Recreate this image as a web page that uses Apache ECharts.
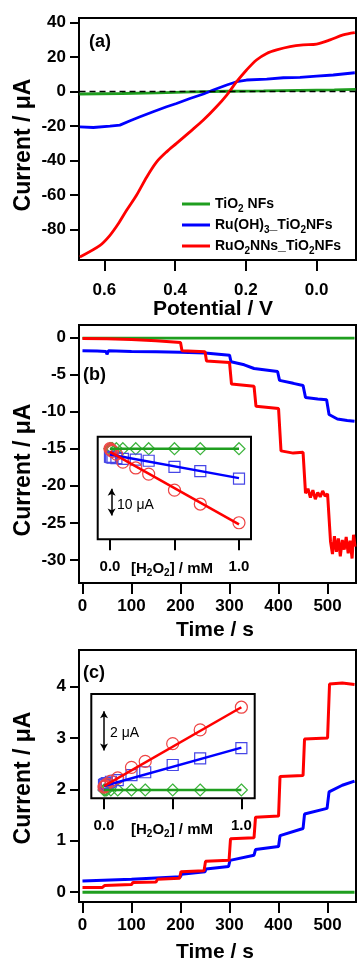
<!DOCTYPE html>
<html><head><meta charset="utf-8">
<script src="https://cdn.jsdelivr.net/npm/echarts@6/dist/echarts.min.js"></script>
<style>html,body{margin:0;padding:0;background:#fff}#c{width:358px;height:962px}</style>
</head><body><div id="c"></div>
<script>
// ---------- Panel (a): current vs potential ----------
const aGreenV = [0.67, 0.55, 0.45, 0.35, 0.25, 0.15, 0.05, -0.05, -0.11];
const aGreenI = [-1.5, -1.2, -0.8, -0.3, 0.1, 0.3, 0.6, 0.9, 1.2];
const aBlueV = [0.669, 0.631, 0.584, 0.556, 0.527, 0.499, 0.462, 0.424, 0.396, 0.358, 0.320, 0.292, 0.254, 0.226, 0.198, 0.141, 0.094, 0.047, 0.0, -0.047, -0.108];
const aBlueI = [-20.5, -20.9, -20.1, -19.5, -17.0, -14.7, -11.8, -8.9, -7.0, -4.1, -1.5, 0.8, 3.7, 5.6, 6.6, 7.1, 7.9, 8.1, 8.9, 9.5, 10.8];
const aRedV = [0.669, 0.612, 0.584, 0.560, 0.537, 0.509, 0.480, 0.452, 0.424, 0.396, 0.358, 0.320, 0.283, 0.254, 0.226, 0.198, 0.170, 0.141, 0.113, 0.075, 0.038, 0.0, -0.038, -0.075, -0.108];
const aRedI = [-95.8, -89.1, -83.3, -76.5, -68.8, -60.1, -49.5, -40.8, -35.0, -30.1, -23.4, -16.6, -8.9, -2.1, 5.6, 12.4, 18.2, 22.0, 24.0, 25.9, 26.9, 27.4, 29.8, 32.7, 34.0];
const aZeroV = [0.67, -0.11];
const aZeroI = [0, 0];
const aTicksX = [0.6, 0.4, 0.2, 0.0];
const aTicksY = [40, 20, 0, -20, -40, -60, -80];
const legendNames = ['TiO2 NFs', 'Ru(OH)3_TiO2NFs', 'RuO2NNs_TiO2NFs'];

// ---------- Panel (b): amperometric i-t ----------
const bGreenT = [0, 555];
const bGreenI = [-0.1, -0.1];
const bBlueT = [0, 30, 48, 50, 53, 100, 150, 200, 250, 252, 300, 303, 330, 350, 352, 398, 402, 430, 450, 455, 480, 498, 503, 520, 540, 555];
const bBlueI = [-1.8, -1.85, -1.9, -2.3, -1.8, -1.9, -1.95, -2.0, -2.1, -2.3, -2.4, -3.3, -3.7, -4.2, -4.4, -4.6, -5.8, -6.2, -6.5, -8.1, -8.3, -8.4, -10.4, -11.0, -11.2, -11.3];
const bRedT = [0, 50, 50, 100, 100, 150, 150, 200, 203, 250, 253, 300, 304, 350, 354, 400, 405, 430, 450, 455, 460, 465, 470, 475, 480, 485, 490, 495, 500, 506, 510, 514, 518, 522, 526, 530, 534, 538, 542, 546, 550, 553, 556];
const bRedI = [-0.15, -0.2, -0.25, -0.3, -0.35, -0.45, -0.55, -0.7, -1.8, -1.95, -3.2, -3.4, -6.3, -6.6, -9.3, -9.6, -15.3, -15.6, -15.5, -21.0, -20.4, -21.6, -20.6, -21.8, -20.9, -21.5, -20.7, -21.4, -21.1, -27.5, -29.2, -26.8, -28.9, -27.1, -29.5, -27.3, -28.6, -26.9, -29.1, -27.4, -29.8, -26.6, -28.2];
const timeTicks = [0, 100, 200, 300, 400, 500];
const bTicksY = [0, -5, -10, -15, -20, -25, -30];

// ---------- Panel (c): amperometric i-t ----------
const cGreenT = [0, 555];
const cGreenI = [0, 0];
const cBlueT = [0, 100, 200, 202, 250, 252, 298, 301, 350, 353, 400, 403, 450, 453, 499, 503, 530, 555];
const cBlueI = [0.22, 0.25, 0.3, 0.35, 0.4, 0.45, 0.5, 0.62, 0.72, 0.83, 0.89, 1.1, 1.24, 1.52, 1.63, 1.95, 2.08, 2.16];
const cRedT = [0, 40, 45, 100, 103, 150, 153, 198, 201, 248, 251, 299, 302, 350, 353, 400, 403, 450, 453, 500, 504, 530, 555];
const cRedI = [0.09, 0.09, 0.13, 0.15, 0.19, 0.2, 0.25, 0.27, 0.4, 0.42, 0.6, 0.62, 1.04, 1.06, 1.46, 1.48, 2.25, 2.27, 2.98, 3.0, 4.05, 4.07, 4.04];
const cTicksY = [0, 1, 2, 3, 4];

// ---------- Insets: current vs [H2O2] ----------
const insetConc = [0, 0.005, 0.01, 0.02, 0.05, 0.1, 0.2, 0.3, 0.5, 0.7, 1.0];
const insetTicks = [0, 0.5, 1.0];
const insetLabels = [0, 1.0];
const fitConc = [0, 1.0];
const bInsGreen = [0, 0, 0, 0, 0, 0, 0, 0, 0, 0, 0];
const bInsBlue = [-3.0, -3.1, -3.2, -3.3, -3.5, -3.8, -4.1, -4.5, -6.8, -8.4, -11.2];
const bInsRed = [0.0, -0.3, -0.6, -1.0, -2.0, -5.0, -7.2, -9.5, -15.5, -20.7, -27.7];
const bFitGreen = [0, 0];
const bFitBlue = [-2.2, -11.0];
const bFitRed = [-1.2, -28.3];
const bScaleBar = [[0.013, -15], [0.013, -25]]; // 10 uA
const cInsGreen = [0, 0, 0, 0, 0, 0, 0, 0, 0, 0, 0];
const cInsBlue = [0.25, 0.27, 0.3, 0.35, 0.42, 0.5, 0.76, 0.9, 1.27, 1.61, 2.12];
const cInsRed = [0.15, 0.18, 0.22, 0.3, 0.45, 0.62, 1.15, 1.45, 2.35, 3.05, 4.2];
const cFitGreen = [0, 0];
const cFitBlue = [0.2, 2.15];
const cFitRed = [0.2, 4.2];
const cScaleBar = [[0.0, 4], [0.0, 2]]; // 2 uA

// ---------- styling ----------
const FF = '"Liberation Sans", Arial, sans-serif';
const GREEN = '#1f9e1f', BLUE = '#0000ff', RED = '#ff0000';
const pair = (xs, ys) => xs.map((x, i) => [x, ys[i]]);

function mainX(grid, min, max, ticks, fmt, margin, inverse) {
  return {
    type: 'value', gridIndex: grid, min, max, inverse: !!inverse, position: 'bottom',
    axisLine: {show: false, onZero: false}, splitLine: {show: false},
    axisTick: {show: true, inside: false, length: 11, customValues: ticks, lineStyle: {color: '#000', width: 2}},
    axisLabel: {customValues: ticks, formatter: fmt, margin, color: '#000', fontSize: 17, fontWeight: 'bold', fontFamily: FF}
  };
}
function mainY(grid, min, max, ticks) {
  return {
    type: 'value', gridIndex: grid, min, max, position: 'left',
    axisLine: {show: false, onZero: false}, splitLine: {show: false},
    axisTick: {show: true, inside: false, length: 9, customValues: ticks, lineStyle: {color: '#000', width: 2}},
    axisLabel: {customValues: ticks, formatter: v => String(v), margin: 13, color: '#000', fontSize: 17, fontWeight: 'bold', fontFamily: FF}
  };
}
function insetX(grid, min, max) {
  return {
    type: 'value', gridIndex: grid, min, max, position: 'bottom',
    axisLine: {show: false, onZero: false}, splitLine: {show: false},
    axisTick: {show: true, inside: false, length: 11, customValues: insetTicks, lineStyle: {color: '#000', width: 2}},
    axisLabel: {customValues: insetLabels, formatter: v => v.toFixed(1), margin: 20, color: '#000', fontSize: 15, fontWeight: 'bold', fontFamily: FF}
  };
}
function insetY(grid, min, max) {
  return {type: 'value', gridIndex: grid, min, max, position: 'left', axisLine: {show: false, onZero: false}, splitLine: {show: false}, axisTick: {show: false}, axisLabel: {show: false}};
}
function line(name, xi, data, color, width, extra) {
  return Object.assign({name, type: 'line', xAxisIndex: xi, yAxisIndex: xi, data, showSymbol: false, symbol: 'none',
    lineStyle: {color, width}, itemStyle: {color}, animation: false, silent: true, clip: true,
    emphasis: {disabled: true}}, extra || {});
}
// open markers drawn as symbol-only line series (no connecting line)
function markers(name, xi, data, color, symbol, size) {
  return {name, type: 'line', xAxisIndex: xi, yAxisIndex: xi, data, symbol, symbolSize: size,
    showSymbol: true, showAllSymbol: true, clip: true, lineStyle: {width: 0, opacity: 0},
    itemStyle: {color: 'rgba(0,0,0,0)', borderColor: color, borderWidth: 1.2},
    emphasis: {disabled: true}, animation: false, silent: true, z: 3};
}
function scaleBar(xi, pts) {
  return {type: 'line', xAxisIndex: xi, yAxisIndex: xi, data: [], silent: true, animation: false, symbol: 'none',
    markLine: {silent: true, animation: false, symbol: ['arrow', 'arrow'], symbolSize: [6, 7], label: {show: false},
      lineStyle: {color: '#000', width: 1.5, type: 'solid'}, data: [[{coord: pts[0]}, {coord: pts[1]}]]}};
}

const subRich = {sub: {fontSize: 10, fontWeight: 'bold', fontFamily: FF, lineHeight: 10, verticalAlign: 'bottom', color: '#000'}};
const toRich = s => s.replace(/(\d)/g, '{sub|$1}');

const grids = [
  {left: 79, top: 18, width: 277, height: 242},
  {left: 79, top: 325, width: 277, height: 258},
  {left: 79, top: 650, width: 277, height: 252},
  {left: 97.7, top: 436.7, width: 153.3, height: 102.6},
  {left: 91.3, top: 694, width: 163.4, height: 104.3}
].map(g => Object.assign({show: true, borderColor: '#000', borderWidth: 2, backgroundColor: '#fff', containLabel: false}, g));

function txt(text, x, y, size, opts) {
  opts = opts || {};
  return {type: 'text', x, y, rotation: opts.rot || 0, silent: true, z: 100,
    style: {text, font: (opts.weight || 'bold') + ' ' + size + 'px ' + FF, fill: '#000',
      align: opts.align || 'center', verticalAlign: 'middle', textAlign: opts.align || 'center', textVerticalAlign: 'middle',
      lineHeight: opts.lh, rich: opts.rich}};
}

const option = {
  animation: false,
  backgroundColor: '#fff',
  tooltip: {show: false},
  grid: grids,
  xAxis: [
    mainX(0, -0.1113, 0.6715, aTicksX, v => v.toFixed(1), 22, true),
    mainX(1, -7.1, 558, timeTicks, v => String(v), 15),
    mainX(2, -7.1, 558, timeTicks, v => String(v), 15),
    insetX(3, -0.095, 1.093),
    insetX(4, -0.0925, 1.097)
  ],
  yAxis: [
    mainY(0, -97.6, 42.5, aTicksY),
    mainY(1, -33.1, 1.66, bTicksY),
    mainY(2, -0.19, 4.71, cTicksY),
    insetY(3, -33.9, 4.5),
    insetY(4, -0.42, 4.87)
  ],
  legend: {
    data: legendNames, orient: 'vertical', left: 177, top: 189, icon: 'rect', itemWidth: 28, itemHeight: 3, itemGap: 1,
    selectedMode: false,
    formatter: name => toRich(name),
    textStyle: {color: '#000', fontSize: 14, fontWeight: 'bold', fontFamily: FF, lineHeight: 20, rich: subRich}
  },
  series: [
    line(legendNames[0], 0, pair(aGreenV, aGreenI), GREEN, 2.8),
    line(legendNames[1], 0, pair(aBlueV, aBlueI), BLUE, 2.8),
    line(legendNames[2], 0, pair(aRedV, aRedI), RED, 2.8, {smooth: 0.3}),
    line('zero', 0, pair(aZeroV, aZeroI), '#000', 1.5, {lineStyle: {color: '#000', width: 1.5, type: [6, 4]}, z: 5}),

    line('b-green', 1, pair(bGreenT, bGreenI), GREEN, 2.8),
    line('b-blue', 1, pair(bBlueT, bBlueI), BLUE, 3),
    line('b-red', 1, pair(bRedT, bRedI), RED, 3),

    line('c-green', 2, pair(cGreenT, cGreenI), GREEN, 2.8),
    line('c-blue', 2, pair(cBlueT, cBlueI), BLUE, 3),
    line('c-red', 2, pair(cRedT, cRedI), RED, 3),

    markers('bi-green', 3, pair(insetConc, bInsGreen), '#3cb43c', 'diamond', 12),
    markers('bi-blue', 3, pair(insetConc, bInsBlue), '#4646e6', 'rect', 11),
    markers('bi-red', 3, pair(insetConc, bInsRed), '#ee4444', 'circle', 12),
    line('bf-green', 3, pair(fitConc, bFitGreen), GREEN, 2.5, {z: 4}),
    line('bf-blue', 3, pair(fitConc, bFitBlue), BLUE, 2.5, {z: 4}),
    line('bf-red', 3, pair(fitConc, bFitRed), RED, 2.5, {z: 4}),
    scaleBar(3, bScaleBar),

    markers('ci-green', 4, pair(insetConc, cInsGreen), '#3cb43c', 'diamond', 12),
    markers('ci-blue', 4, pair(insetConc, cInsBlue), '#4646e6', 'rect', 11),
    markers('ci-red', 4, pair(insetConc, cInsRed), '#ee4444', 'circle', 12),
    line('cf-green', 4, pair(fitConc, cFitGreen), GREEN, 2.5, {z: 4}),
    line('cf-blue', 4, pair(fitConc, cFitBlue), BLUE, 2.5, {z: 4}),
    line('cf-red', 4, pair(fitConc, cFitRed), RED, 2.5, {z: 4}),
    scaleBar(4, cScaleBar)
  ],
  graphic: [
    txt('(a)', 89, 42, 18, {align: 'left'}),
    txt('(b)', 83, 375, 18, {align: 'left'}),
    txt('(c)', 83, 673, 18, {align: 'left'}),
    txt('Potential / V', 213, 309, 21),
    txt('Time / s', 215, 630, 21),
    txt('Time / s', 215, 952, 21),
    txt('Current / μA', 24, 145, 23, {rot: Math.PI / 2}),
    txt('Current / μA', 24, 470, 23, {rot: Math.PI / 2}),
    txt('Current / μA', 24, 778, 23, {rot: Math.PI / 2}),
    txt('10 μA', 117, 505, 14, {align: 'left', weight: 'normal'}),
    txt('2 μA', 110, 733, 14, {align: 'left', weight: 'normal'}),
    txt(toRich('[H2O2] / mM'), 172, 569, 15, {lh: 18, rich: subRich}),
    txt(toRich('[H2O2] / mM'), 172, 830, 15, {lh: 18, rich: subRich})
  ]
};
const chart = echarts.init(document.getElementById('c'), null, {renderer: 'canvas'});
chart.setOption(option);
</script></body></html>
